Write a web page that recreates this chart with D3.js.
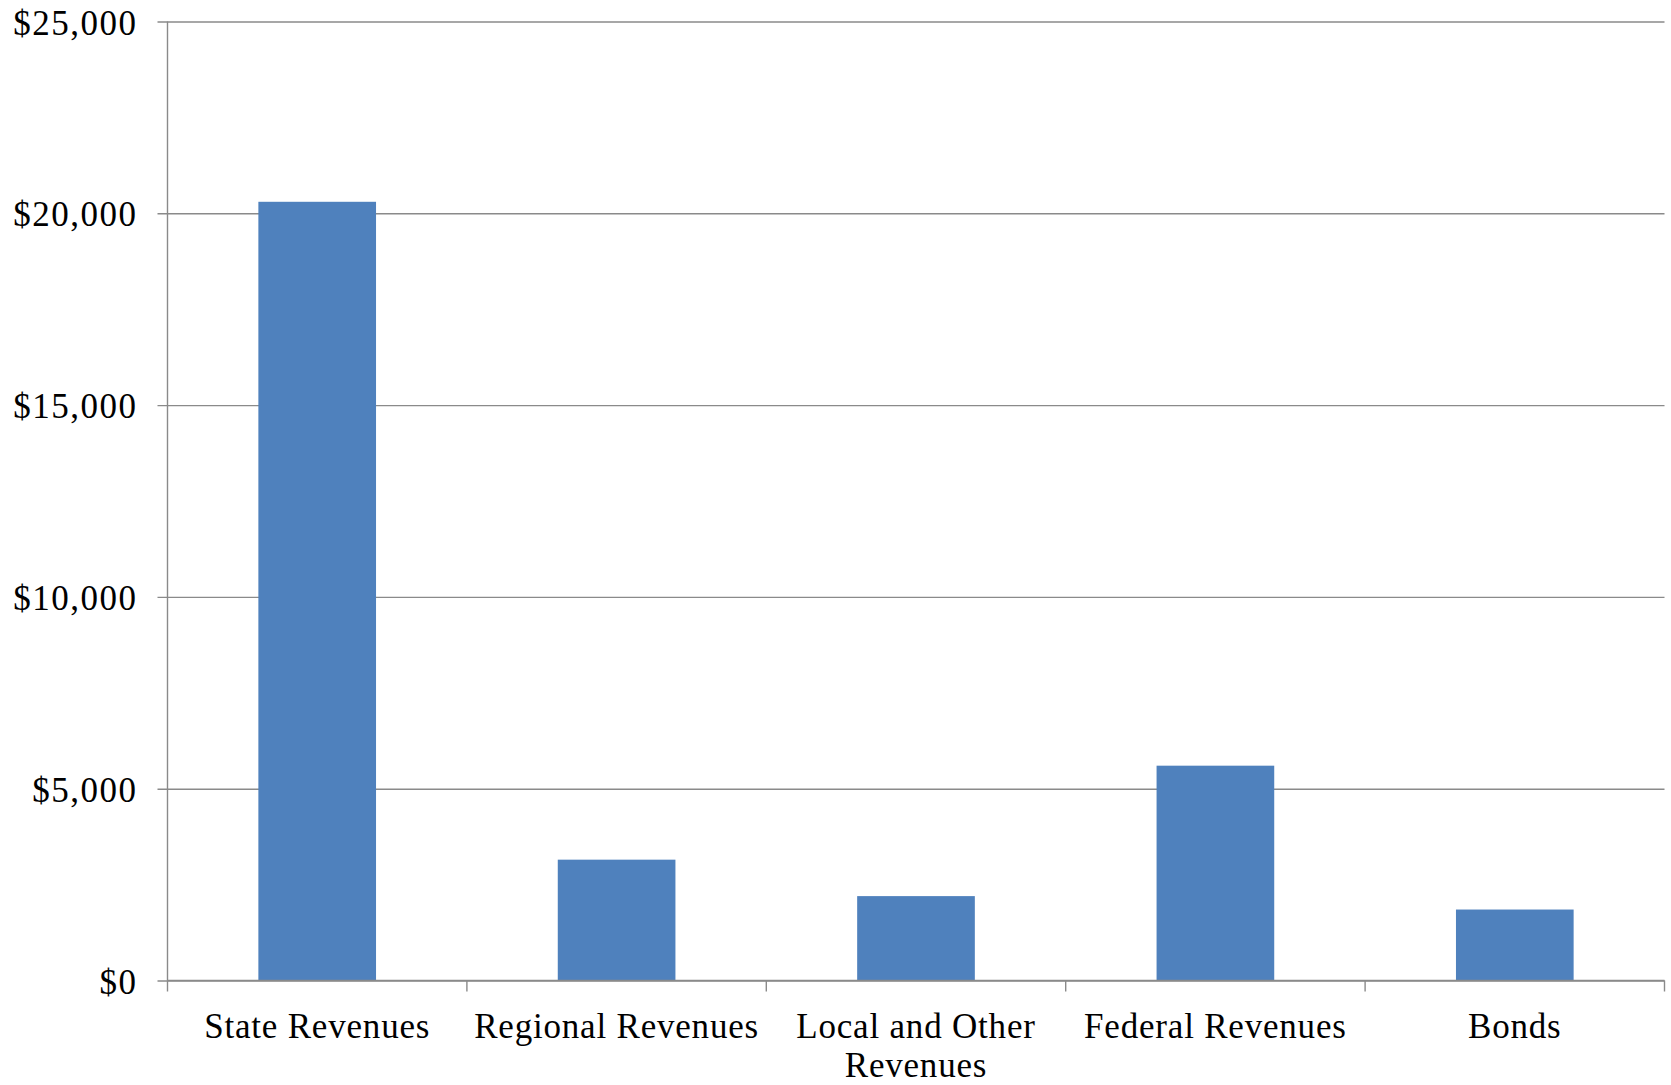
<!DOCTYPE html>
<html>
<head>
<meta charset="utf-8">
<script src="https://cdn.jsdelivr.net/npm/d3@7/dist/d3.min.js"></script>
<style>
  html, body { margin: 0; padding: 0; background: #ffffff; }
  svg { display: block; }
  text { font-family: "Liberation Serif", "Times New Roman", serif; fill: #000; }
</style>
</head>
<body>
<svg id="chart" width="1671" height="1085"></svg>
<script>
// Revenue sources (in millions of dollars)
const categories = ["State Revenues", "Regional Revenues", "Local and Other Revenues", "Federal Revenues", "Bonds"];
const values = [20300, 3150, 2200, 5600, 1850];
const yTicks = [0, 5000, 10000, 15000, 20000, 25000];

const W = 1671, H = 1085;
const margin = { left: 167.5, right: 6.5, top: 21.5, bottom: 104.5 };
const plotW = W - margin.left - margin.right;
const plotH = H - margin.top - margin.bottom;

const svg = d3.select("#chart");
const g = svg.append("g").attr("transform", `translate(${margin.left},${margin.top})`);

const x = d3.scaleBand().domain(categories).range([0, plotW]).padding(0);
const y = d3.scaleLinear().domain([0, 25000]).range([plotH, 0]);

const lineColor = "#8a8a8a";
const fmt = v => "$" + d3.format(",")(v);

// horizontal gridlines with short ticks left of the axis
const yAxis = d3.axisLeft(y).tickValues(yTicks).tickFormat(fmt).tickSize(-plotW).tickSizeOuter(0).tickPadding(30);
const yg = g.append("g").call(yAxis);
yg.select(".domain").remove();
yg.selectAll(".tick line")
  .attr("x1", -10)
  .attr("stroke", lineColor)
  .attr("stroke-width", 1.4);
yg.selectAll(".tick text")
  .attr("font-size", 35)
  .attr("dy", "0.36em")
  .attr("letter-spacing", 1.5)
  .style("font-family", '"Liberation Serif", "Times New Roman", serif');

// vertical axis line
g.append("line")
  .attr("x1", 0).attr("x2", 0)
  .attr("y1", 0).attr("y2", plotH)
  .attr("stroke", lineColor).attr("stroke-width", 1.4);

// bars
const barW = x.bandwidth() * 0.393;
g.selectAll("rect.bar")
  .data(categories.map((c, i) => ({ c, v: values[i] })))
  .join("rect")
  .attr("class", "bar")
  .attr("x", d => x(d.c) + (x.bandwidth() - barW) / 2)
  .attr("width", barW)
  .attr("y", d => y(d.v))
  .attr("height", d => y(0) - y(d.v))
  .attr("fill", "#4f81bd");

// category axis with boundary ticks
const xg = g.append("g").attr("transform", `translate(0,${plotH})`);
xg.append("line")
  .attr("x1", 0).attr("x2", plotW)
  .attr("stroke", lineColor).attr("stroke-width", 1.4);
const bounds = d3.range(categories.length + 1).map(i => i * x.step());
xg.selectAll("line.sep")
  .data(bounds)
  .join("line")
  .attr("class", "sep")
  .attr("x1", d => d).attr("x2", d => d)
  .attr("y1", 0).attr("y2", 11)
  .attr("stroke", lineColor).attr("stroke-width", 1.4);

const labels = xg.selectAll("text.cat")
  .data(categories)
  .join("text")
  .attr("class", "cat")
  .attr("x", d => x(d) + x.bandwidth() / 2)
  .attr("y", 57)
  .attr("text-anchor", "middle")
  .attr("letter-spacing", 0.8)
  .attr("font-size", 35);

// wrap long category names within the band width
labels.each(function (d) {
  const t = d3.select(this);
  const words = d.split(" ");
  const maxW = x.bandwidth() - 12;
  let line = [];
  let tspan = t.append("tspan").attr("x", t.attr("x")).attr("dy", 0);
  words.forEach(w => {
    line.push(w);
    tspan.text(line.join(" "));
    if (tspan.node().getComputedTextLength() > maxW && line.length > 1) {
      line.pop();
      tspan.text(line.join(" "));
      line = [w];
      tspan = t.append("tspan").attr("x", t.attr("x")).attr("dy", 39).text(w);
    }
  });
});
</script>
</body>
</html>
